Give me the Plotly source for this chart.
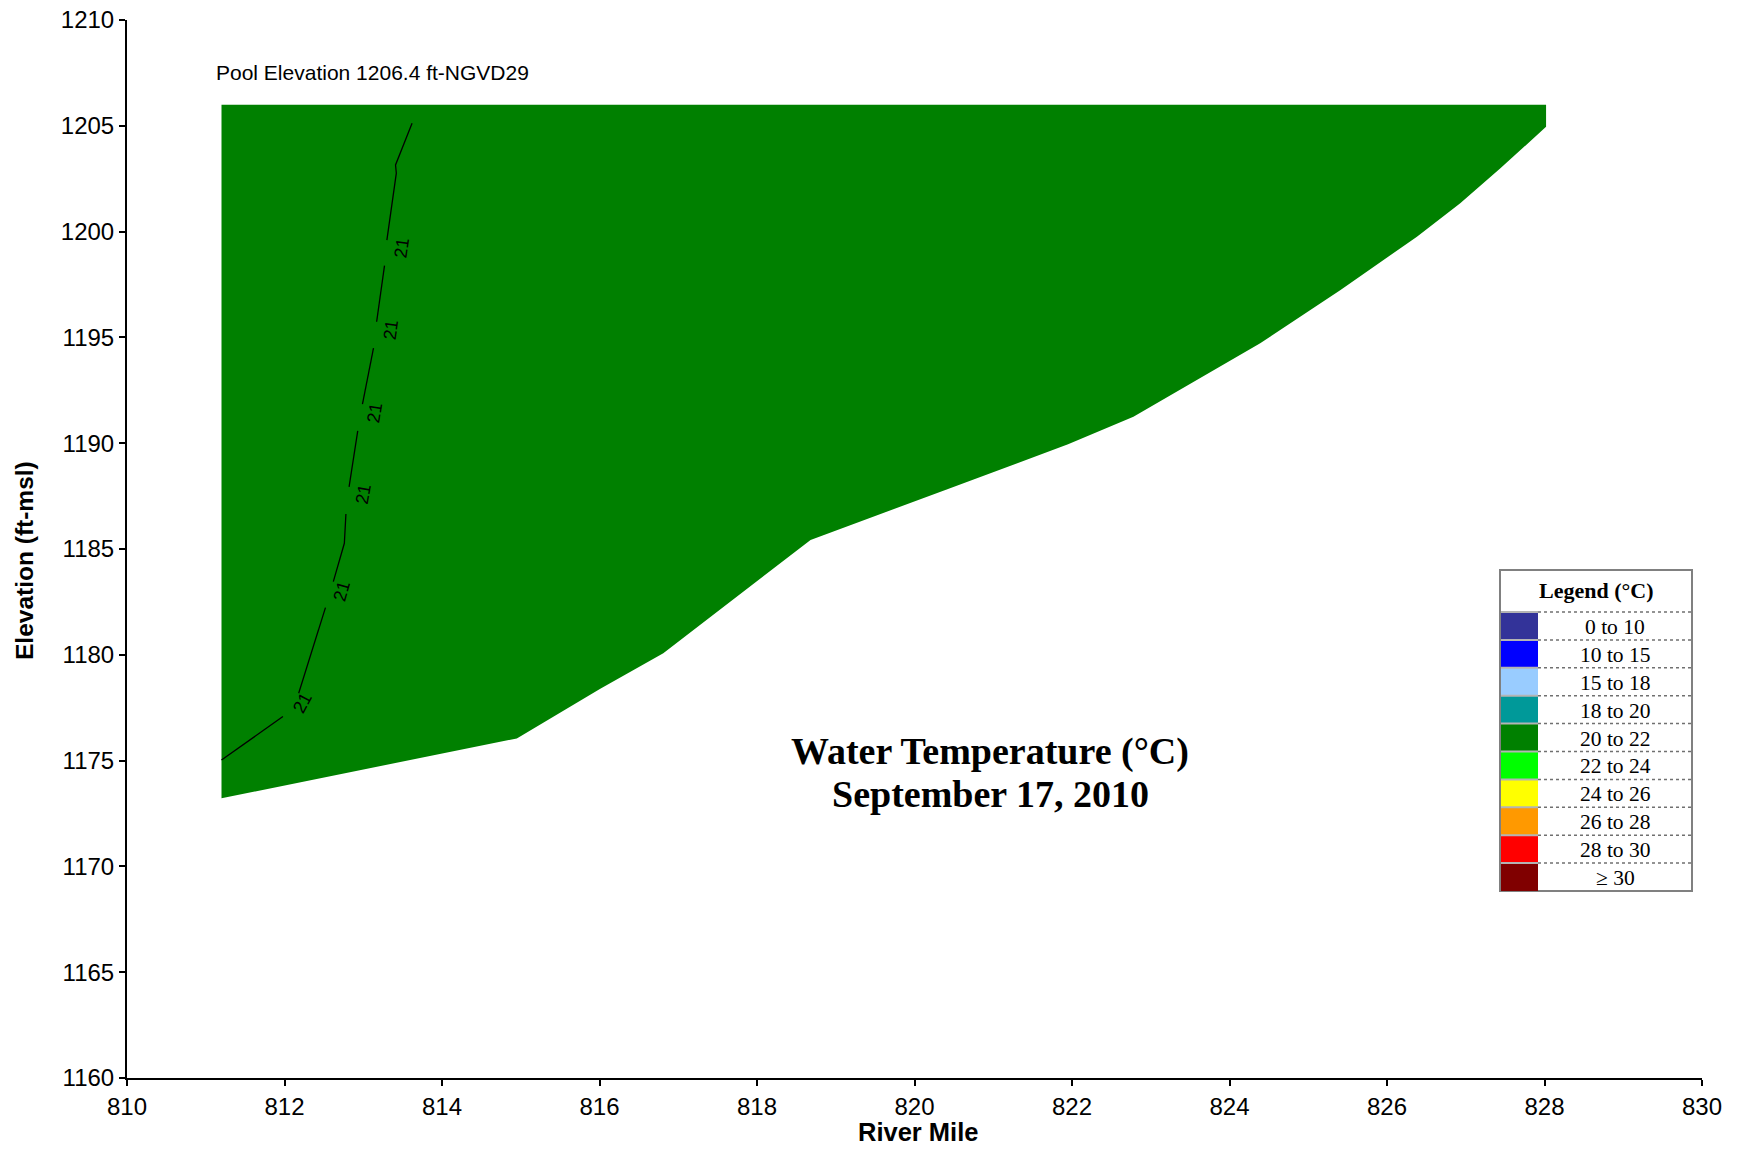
import plotly.graph_objects as go

# ---------------- data ----------------
# Outline of the 20-22 degC zone (river mile, elevation ft)
region_mile = [811.20, 828.02, 828.02, 827.44, 826.93, 826.38, 825.41, 824.39,
               822.78, 821.95, 820.40, 818.68, 816.81, 816.01, 814.95, 811.20]
region_elev = [1206.0, 1206.0, 1204.95, 1202.99, 1201.34, 1199.76, 1197.24, 1194.72,
               1191.25, 1189.95, 1187.80, 1185.43, 1180.07, 1178.40, 1176.05, 1173.22]

# 21 degC isotherm (None = break where a label sits)
contour_mile = [811.20, 811.98, None, 812.18, 812.52, None, 812.62, 812.73, 812.76, 812.78, None,
                812.82, 812.92, 812.93, None, 812.99, 813.13, None, 813.17, 813.27, None,
                813.30, 813.42, 813.41, 813.62]
contour_elev = [1175.03, 1177.08, None, 1178.18, 1182.23, None, 1183.46, 1184.80, 1185.27, 1186.65, None,
                1187.94, 1190.15, 1190.58, None, 1191.85, 1194.49, None, 1195.74, 1198.39, None,
                1199.60, 1202.76, 1203.15, 1205.12]

contour_label_mile = [812.23, 812.73, 813.00, 813.14, 813.35, 813.49]
contour_label_elev = [1177.70, 1183.00, 1187.60, 1191.45, 1195.35, 1199.22]
contour_label_text = ["21", "21", "21", "21", "21", "21"]

legend_labels = ["0 to 10", "10 to 15", "15 to 18", "18 to 20", "20 to 22",
                 "22 to 24", "24 to 26", "26 to 28", "28 to 30", "\u2265 30"]
legend_colors = ["#333399", "#0000FF", "#99CCFF", "#009999", "#008000",
                 "#00FF00", "#FFFF00", "#FF9900", "#FF0000", "#800000"]

x_range = [810, 830]
y_range = [1160, 1210]

x_title = "River Mile"
y_title = "Elevation (ft-msl)"
pool_text = "Pool Elevation 1206.4 ft-NGVD29"
title_lines = ["Water Temperature (\u00b0C)", "September 17, 2010"]

# ---------------- layout helpers ----------------
W, H = 1742, 1149
PW, PH = 1575, 1058
ML, MT = 127, 20
MR = W - ML - PW
MB = H - MT - PH


def px_x(px):
    return (px - ML) / PW


def px_y(py):
    return (MT + PH - py) / PH


SANS = "Liberation Sans, Arial, sans-serif"
SERIF = "Liberation Serif, Times New Roman, serif"

fig = go.Figure()

fig.add_trace(go.Scatter(
    x=region_mile, y=region_elev, mode="lines", fill="toself",
    fillcolor="#008000", line=dict(width=0, color="#008000"),
    hoverinfo="skip", showlegend=False))

fig.add_trace(go.Scatter(
    x=contour_mile, y=contour_elev, mode="lines",
    line=dict(color="black", width=1.3), connectgaps=False,
    hoverinfo="skip", showlegend=False))

label_angles = [-62, -74, -80, -81, -82, -82]
annotations = []
for xm, ye, t, a in zip(contour_label_mile, contour_label_elev, contour_label_text, label_angles):
    annotations.append(dict(x=xm, y=ye, xref="x", yref="y", text=t, showarrow=False,
                            textangle=a, font=dict(family=SANS, size=18, color="black")))

# pool elevation text
annotations.append(dict(x=px_x(214), y=px_y(72), xref="paper", yref="paper", text=pool_text,
                        showarrow=False, xanchor="left", yanchor="middle",
                        font=dict(family=SANS, size=21, color="black")))

# axis titles
annotations.append(dict(x=px_x(24), y=px_y(561), xref="paper", yref="paper",
                        text="<b>" + y_title + "</b>", showarrow=False, textangle=-90,
                        xanchor="center", yanchor="middle",
                        font=dict(family=SANS, size=24.5, color="black")))
annotations.append(dict(x=px_x(918), y=px_y(1132), xref="paper", yref="paper",
                        text="<b>" + x_title + "</b>", showarrow=False,
                        xanchor="center", yanchor="middle",
                        font=dict(family=SANS, size=25.5, color="black")))

# chart title
for line, cy in zip(title_lines, [751, 794]):
    annotations.append(dict(x=px_x(990), y=px_y(cy), xref="paper", yref="paper",
                            text="<b>" + line + "</b>", showarrow=False,
                            xanchor="center", yanchor="middle",
                            font=dict(family=SERIF, size=38, color="black")))

# ---------------- custom legend ----------------
shapes = []
bx0, bx1, by0, by1 = 1500, 1692, 570, 891
sw_x1 = 1538
row0 = 612
row_h = (by1 - row0) / len(legend_labels)

shapes.append(dict(type="rect", xref="paper", yref="paper",
                   x0=px_x(bx0), x1=px_x(bx1), y0=px_y(by1), y1=px_y(by0),
                   fillcolor="white", line=dict(color="#808080", width=2), layer="above"))
for i, (lab, col) in enumerate(zip(legend_labels, legend_colors)):
    top = row0 + i * row_h
    bot = top + row_h
    shapes.append(dict(type="rect", xref="paper", yref="paper",
                       x0=px_x(bx0 + 1), x1=px_x(sw_x1), y0=px_y(bot), y1=px_y(top),
                       fillcolor=col, line=dict(width=0), layer="above"))
    shapes.append(dict(type="line", xref="paper", yref="paper",
                       x0=px_x(bx0 + 1), x1=px_x(sw_x1), y0=px_y(top), y1=px_y(top),
                       line=dict(color="#b4b4b4", width=2), layer="above"))
    shapes.append(dict(type="line", xref="paper", yref="paper",
                       x0=px_x(sw_x1), x1=px_x(bx1 - 1), y0=px_y(top), y1=px_y(top),
                       line=dict(color="#707070", width=1.5, dash="dot"), layer="above"))
    annotations.append(dict(x=px_x(1615), y=px_y(top + row_h / 2 + 1), xref="paper", yref="paper",
                            text=lab, showarrow=False, xanchor="center", yanchor="middle",
                            font=dict(family=SERIF, size=21.5, color="black")))

annotations.append(dict(x=px_x(1596), y=px_y(591), xref="paper", yref="paper",
                        text="<b>Legend (\u00b0C)</b>", showarrow=False,
                        xanchor="center", yanchor="middle",
                        font=dict(family=SERIF, size=22, color="black")))

axis_common = dict(showline=True, linecolor="black", linewidth=2, ticks="outside",
                   ticklen=6, tickwidth=2, tickcolor="black", showgrid=False,
                   zeroline=False, mirror=False, ticklabeloverflow="allow",
                   tickfont=dict(family=SANS, size=24, color="black"))

fig.update_layout(
    width=W, height=H,
    margin=dict(l=ML, r=MR, t=MT, b=MB, autoexpand=False),
    paper_bgcolor="white", plot_bgcolor="white",
    showlegend=False,
    xaxis=dict(range=x_range, dtick=2, tick0=810, **axis_common),
    yaxis=dict(range=y_range, dtick=5, tick0=1160, **axis_common),
    annotations=annotations,
    shapes=shapes,
)

fig.write_html("out.html", config={"displayModeBar": False},
               post_script="document.body.style.margin='0';")
